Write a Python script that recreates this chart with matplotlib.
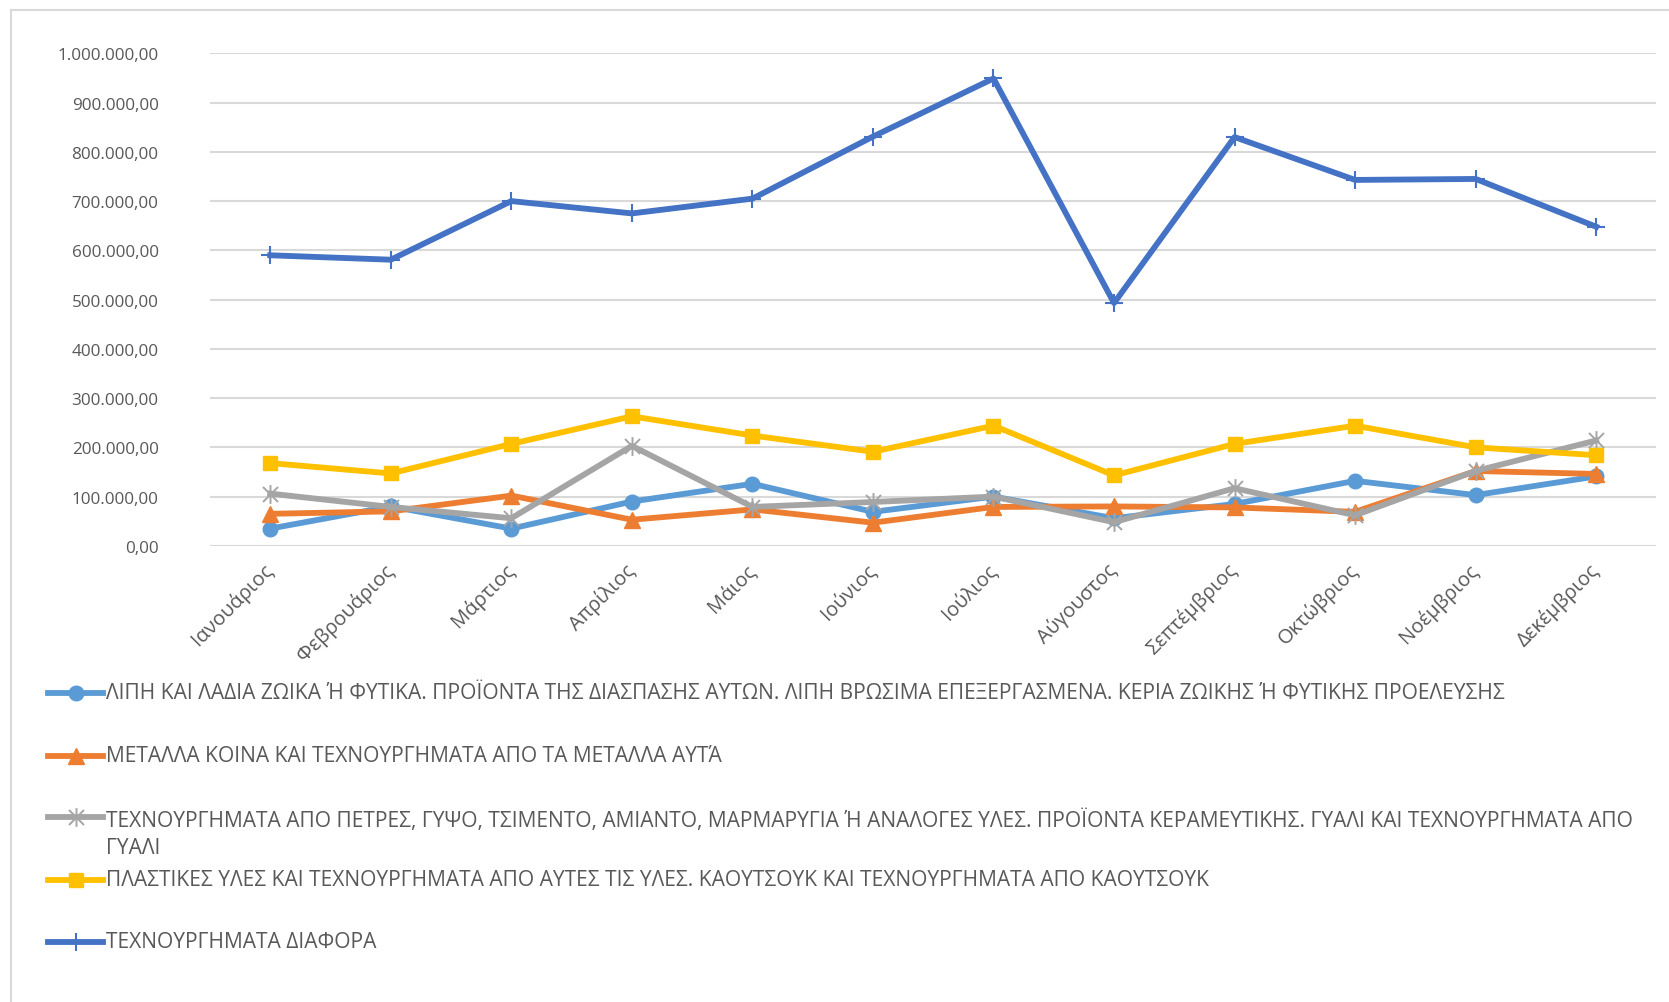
import matplotlib
matplotlib.use("Agg")
import matplotlib.pyplot as plt
from matplotlib.lines import Line2D
from matplotlib.path import Path
from matplotlib.ticker import FuncFormatter, MultipleLocator
import numpy as np

plt.rcParams["font.family"] = ["Open Sans", "DejaVu Sans"]

MONTHS = ["Ιανουάριος", "Φεβρουάριος", "Μάρτιος", "Απρίλιος", "Μάιος", "Ιούνιος",
          "Ιούλιος", "Αύγουστος", "Σεπτέμβριος", "Οκτώβριος", "Νοέμβριος", "Δεκέμβριος"]

FATS = [35000, 80000, 35000, 90000, 126000, 69000, 100000, 56000, 85000, 132000, 103000, 141000]
METALS = [65000, 70000, 102000, 53000, 74000, 47000, 79000, 80000, 78000, 69000, 152000, 146000]
STONES = [106000, 79000, 56000, 203000, 79000, 89000, 100000, 48000, 117000, 62000, 152000, 214000]
PLASTICS = [168000, 147000, 207000, 263000, 224000, 191000, 244000, 143000, 207000, 244000, 200000, 184000]
MISC = [590000, 581000, 700000, 675000, 705000, 831000, 949000, 493000, 830000, 743000, 745000, 648000]

LABELS = [
    "ΛΙΠΗ ΚΑΙ ΛΑΔΙΑ ΖΩΙΚΑ Ή ΦΥΤΙΚΑ. ΠΡΟΪΟΝΤΑ ΤΗΣ ΔΙΑΣΠΑΣΗΣ ΑΥΤΩΝ. ΛΙΠΗ ΒΡΩΣΙΜΑ ΕΠΕΞΕΡΓΑΣΜΕΝΑ. ΚΕΡΙΑ ΖΩΙΚΗΣ Ή ΦΥΤΙΚΗΣ ΠΡΟΕΛΕΥΣΗΣ",
    "ΜΕΤΑΛΛΑ ΚΟΙΝΑ ΚΑΙ ΤΕΧΝΟΥΡΓΗΜΑΤΑ ΑΠΟ ΤΑ ΜΕΤΑΛΛΑ ΑΥΤΆ",
    "ΤΕΧΝΟΥΡΓΗΜΑΤΑ ΑΠΟ ΠΕΤΡΕΣ, ΓΥΨΟ, ΤΣΙΜΕΝΤΟ, ΑΜΙΑΝΤΟ, ΜΑΡΜΑΡΥΓΙΑ Ή ΑΝΑΛΟΓΕΣ ΥΛΕΣ. ΠΡΟΪΟΝΤΑ ΚΕΡΑΜΕΥΤΙΚΗΣ. ΓΥΑΛΙ ΚΑΙ ΤΕΧΝΟΥΡΓΗΜΑΤΑ ΑΠΟ\nΓΥΑΛΙ",
    "ΠΛΑΣΤΙΚΕΣ ΥΛΕΣ ΚΑΙ ΤΕΧΝΟΥΡΓΗΜΑΤΑ ΑΠΟ ΑΥΤΕΣ ΤΙΣ ΥΛΕΣ. ΚΑΟΥΤΣΟΥΚ ΚΑΙ ΤΕΧΝΟΥΡΓΗΜΑΤΑ ΑΠΟ ΚΑΟΥΤΣΟΥΚ",
    "ΤΕΧΝΟΥΡΓΗΜΑΤΑ ΔΙΑΦΟΡΑ",
]

TEXT_COLOR = "#595959"
GRID_COLOR = "#D9D9D9"

# excel style "star" marker: an x with a vertical bar
STAR = Path(
    [(0, -1), (0, 1), (-0.8, -0.8), (0.8, 0.8), (-0.8, 0.8), (0.8, -0.8)],
    [Path.MOVETO, Path.LINETO, Path.MOVETO, Path.LINETO, Path.MOVETO, Path.LINETO],
)

STYLES = [
    dict(color="#5B9BD5", marker="o", markersize=10.5, lw=4.2),
    dict(color="#ED7D31", marker="^", markersize=11, lw=4.2),
    dict(color="#A5A5A5", marker=STAR, markersize=13.5, lw=4.2, mew=1.4),
    dict(color="#FFC000", marker="s", markersize=10.5, lw=4.2),
    dict(color="#4472C4", marker="+", markersize=13.5, lw=4.2, mew=1.5),
]


def greek_number(v, pos):
    s = f"{v:,.2f}"
    return s.replace(",", "X").replace(".", ",").replace("X", ".")


fig = plt.figure(figsize=(16.69, 10.03), dpi=100)
ax = fig.add_axes([0.1258, 0.4548, 0.8667, 0.4910])

x = np.arange(len(MONTHS))
series = [FATS, METALS, STONES, PLASTICS, MISC]
for vals, style in zip(series, STYLES):
    ax.plot(x, vals, zorder=3, **style)

ax.set_xlim(-0.5, len(MONTHS) - 0.5)
ax.set_ylim(0, 1000000)
ax.yaxis.set_major_locator(MultipleLocator(100000))
ax.yaxis.set_major_formatter(FuncFormatter(greek_number))
ax.grid(axis="y", color=GRID_COLOR, lw=1.5, zorder=0)
ax.set_axisbelow(True)
for s in ax.spines.values():
    s.set_visible(False)

ax.set_xticks(x)
ax.set_xticklabels(MONTHS, rotation=45, ha="right", va="center", rotation_mode="anchor")
ax.tick_params(axis="x", length=0, pad=15, labelsize=14.5, labelcolor=TEXT_COLOR)
ax.tick_params(axis="y", length=0, pad=37, labelsize=12.3, labelcolor=TEXT_COLOR)

# chart area frame (extends past right and bottom edges)
fig.add_artist(Line2D([11 / 1669, 1.0], [1 - 11 / 1003] * 2, color=GRID_COLOR, lw=1.5))
fig.add_artist(Line2D([11 / 1669] * 2, [0.0, 1 - 11 / 1003], color=GRID_COLOR, lw=1.5))

# legend, one entry per row below the chart
row_y = [694, 757, 818, 881, 943]
for label, style, y in zip(LABELS, STYLES, row_y):
    yf = 1 - y / 1003
    fig.add_artist(Line2D([48 / 1669, 103 / 1669], [yf, yf], **style, markevery=[]))
    fig.add_artist(Line2D([75.5 / 1669], [yf], **style))
    ty = yf
    if "\n" in label:
        ty = 1 - 834 / 1003
    fig.text(106 / 1669, ty, label, fontsize=15.1, color=TEXT_COLOR, ha="left", va="center",
             linespacing=1.35)

fig.savefig("out.png", dpi=100, facecolor="white")
